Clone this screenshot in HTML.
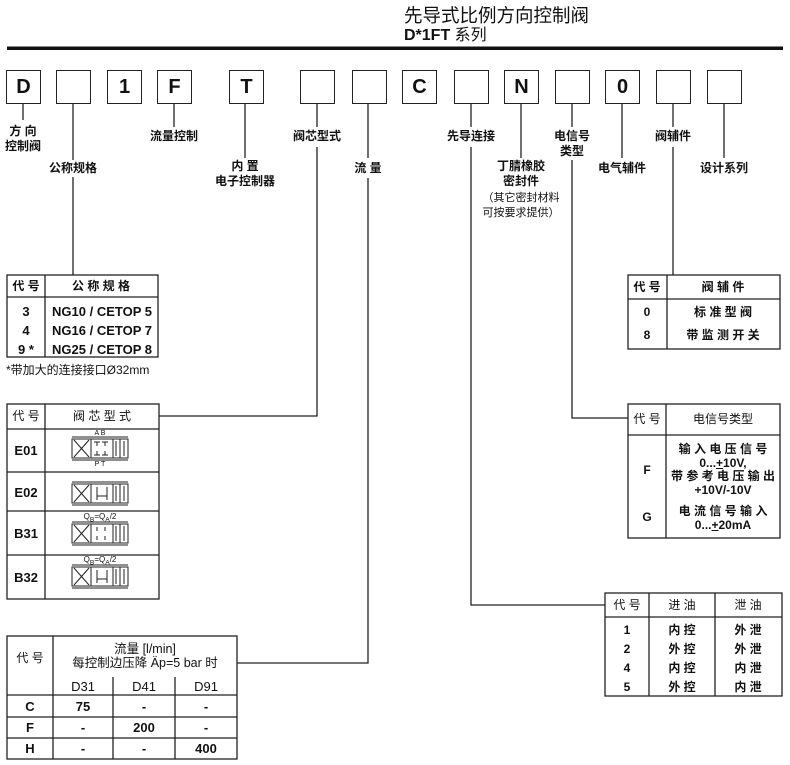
<!DOCTYPE html>
<html><head><meta charset="utf-8"><style>
body{margin:0;background:#fff;}
#c{position:relative;width:790px;height:765px;overflow:hidden;font-family:"Liberation Sans","Noto Sans CJK SC",sans-serif;color:#111;}
.t{position:absolute;white-space:nowrap;line-height:1;}
.b{font-weight:bold;}
.l{font-size:12px;font-weight:bold;text-align:center;transform:translateX(-50%);line-height:15px;}
.box{position:absolute;top:70px;width:33px;height:32px;border:1.5px solid #222;font-weight:bold;font-size:20px;text-align:center;line-height:32px;}
.c{transform:translateX(-50%);text-align:center;}
svg{position:absolute;left:0;top:0;}
</style></head><body><div id="c">
<svg width="790" height="765" stroke="#222" fill="none" stroke-width="1.3">
<rect x="7" y="46.5" width="776" height="3.5" fill="#111" stroke="none"/>
<path d="M23 103V120 M73 103V160 M73 177V275 M174 103V127 M245 103V158 M317 103V127 M317 147V416H159 M368 103V158 M368 178V663H237 M471 103V127 M471 147V605H605 M521 103V158 M572 103V127 M572 160V418H628 M622 103V158 M673 103V127 M673 147V275 M724 103V158"/>
<rect x="7" y="275" width="151" height="82"/><path d="M7 297H158 M45 275V357"/>
<rect x="7" y="404" width="152" height="195"/><path d="M7 429H159 M7 472H159 M7 511H159 M7 555H159 M45 404V599"/>
<rect x="7" y="636" width="230" height="123"/><path d="M53 636V759 M113 677V759 M175 677V759 M7 695H237 M7 717H237 M7 738H237"/>
<rect x="628" y="275" width="152" height="74"/><path d="M628 299H780 M667 275V349"/>
<rect x="628" y="404" width="152" height="134"/><path d="M628 435H780 M666 404V538"/>
<rect x="605" y="593" width="177" height="103"/><path d="M605 617H782 M649 593V696 M715 593V696"/>
<g stroke-width="1">
<g transform="translate(72,439)"><path d="M0 -2H56 M0 21H56"/><rect x="0" y="0" width="56" height="19"/><path d="M19 0V19 M41 0V19 M48 0V19 M2 1L17 18 M17 1L2 18 M25 3V7 M22 3H28 M33 3V7 M30 3H36 M25 16V12 M22 16H28 M33 16V12 M30 16H36 M44 17V2 M52 2V17"/></g>
<g transform="translate(72,484)"><path d="M0 -2H56 M0 21H56"/><rect x="0" y="0" width="56" height="19"/><path d="M19 0V19 M41 0V19 M48 0V19 M2 1L17 18 M17 1L2 18 M25 3V16 M35 3V16 M25 12H35 M44 17V2 M52 2V17"/></g>
<g transform="translate(72,524)"><path d="M0 -2H56 M0 21H56"/><rect x="0" y="0" width="56" height="19"/><path d="M19 0V19 M41 0V19 M48 0V19 M2 1L17 18 M17 1L2 18 M25 3V7 M33 3V7 M25 16V12 M33 16V12 M44 17V2 M52 2V17"/></g>
<g transform="translate(72,567)"><path d="M0 -2H56 M0 21H56"/><rect x="0" y="0" width="56" height="19"/><path d="M19 0V19 M41 0V19 M48 0V19 M2 1L17 18 M17 1L2 18 M25 3V16 M35 3V16 M25 12H35 M44 17V2 M52 2V17"/></g>
</g>
</svg>
<div class="t" style="left:404px;top:7px;font-size:18.5px;">先导式比例方向控制阀</div>
<div class="t b" style="left:404px;top:28px;font-size:16px;">D*1FT <span style="font-weight:normal">系列</span></div>

<div class="box" style="left:6px">D</div><div class="box" style="left:56px"></div><div class="box" style="left:107px">1</div><div class="box" style="left:157px">F</div><div class="box" style="left:229px">T</div><div class="box" style="left:300px"></div><div class="box" style="left:352px"></div>
<div class="box" style="left:402px">C</div><div class="box" style="left:454px"></div><div class="box" style="left:504px">N</div><div class="box" style="left:555px"></div><div class="box" style="left:605px">0</div><div class="box" style="left:656px"></div><div class="box" style="left:707px"></div>

<div class="t l" style="left:23px;top:124px">方 向<br>控制阀</div>
<div class="t l" style="left:73px;top:161px">公称规格</div>
<div class="t l" style="left:174px;top:129px">流量控制</div>
<div class="t l" style="left:245px;top:159px">内 置<br>电子控制器</div>
<div class="t l" style="left:317px;top:129px">阀芯型式</div>
<div class="t l" style="left:368px;top:161px">流 量</div>
<div class="t l" style="left:471px;top:129px">先导连接</div>
<div class="t l" style="left:521px;top:159px">丁腈橡胶<br>密封件</div>
<div class="t l" style="left:521px;top:191px;font-weight:normal;font-size:11px">（其它密封材料<br>可按要求提供）</div>
<div class="t l" style="left:572px;top:129px">电信号<br>类型</div>
<div class="t l" style="left:622px;top:161px">电气辅件</div>
<div class="t l" style="left:673px;top:129px">阀辅件</div>
<div class="t l" style="left:724px;top:161px">设计系列</div>

<div class="t c b" style="left:26px;top:280px;font-size:12px">代 号</div>
<div class="t c b" style="left:101px;top:280px;font-size:12px">公 称 规 格</div>
<div class="t c b" style="left:26px;top:302px;font-size:13px;line-height:19px">3<br>4<br>9 *</div>
<div class="t c b" style="left:102px;top:302px;font-size:13px;line-height:19px">NG10 / CETOP 5<br>NG16 / CETOP 7<br>NG25 / CETOP 8</div>
<div class="t" style="left:6px;top:364px;font-size:12px">*带加大的连接接口Ø32mm</div>

<div class="t c" style="left:26px;top:410px;font-size:12px">代 号</div>
<div class="t c" style="left:102px;top:410px;font-size:12px">阀 芯 型 式</div>
<div class="t c b" style="left:26px;top:444px;font-size:13px">E01</div>
<div class="t c b" style="left:26px;top:486px;font-size:13px">E02</div>
<div class="t c b" style="left:26px;top:527px;font-size:13px">B31</div>
<div class="t c b" style="left:26px;top:571px;font-size:13px">B32</div>
<div class="t c" style="left:100px;top:430px;font-size:7px">A B</div>
<div class="t c" style="left:100px;top:461px;font-size:7px">P T</div>
<div class="t c" style="left:100px;top:513px;font-size:8px">Q<sub>B</sub>=Q<sub>A</sub>/2</div>
<div class="t c" style="left:100px;top:556px;font-size:8px">Q<sub>B</sub>=Q<sub>A</sub>/2</div>

<div class="t c" style="left:30px;top:652px;font-size:12px">代 号</div>
<div class="t c" style="left:145px;top:642px;font-size:12.5px;line-height:14px">流量 [l/min]<br>每控制边压降 Äp=5 bar 时</div>
<div class="t c" style="left:83px;top:680px;font-size:13px">D31</div>
<div class="t c" style="left:144px;top:680px;font-size:13px">D41</div>
<div class="t c" style="left:206px;top:680px;font-size:13px">D91</div>
<div class="t c b" style="left:30px;top:700px;font-size:13px">C</div>
<div class="t c b" style="left:30px;top:721px;font-size:13px">F</div>
<div class="t c b" style="left:30px;top:742px;font-size:13px">H</div>
<div class="t c b" style="left:83px;top:700px;font-size:13px">75</div>
<div class="t c b" style="left:144px;top:700px;font-size:13px">-</div>
<div class="t c b" style="left:206px;top:700px;font-size:13px">-</div>
<div class="t c b" style="left:83px;top:721px;font-size:13px">-</div>
<div class="t c b" style="left:144px;top:721px;font-size:13px">200</div>
<div class="t c b" style="left:206px;top:721px;font-size:13px">-</div>
<div class="t c b" style="left:83px;top:742px;font-size:13px">-</div>
<div class="t c b" style="left:144px;top:742px;font-size:13px">-</div>
<div class="t c b" style="left:206px;top:742px;font-size:13px">400</div>

<div class="t c b" style="left:647px;top:281px;font-size:12px">代 号</div>
<div class="t c b" style="left:723px;top:281px;font-size:12px">阀 辅 件</div>
<div class="t c b" style="left:647px;top:306px;font-size:12px">0</div>
<div class="t c b" style="left:723px;top:306px;font-size:12px">标 准 型 阀</div>
<div class="t c b" style="left:647px;top:329px;font-size:12px">8</div>
<div class="t c b" style="left:723px;top:329px;font-size:12px">带 监 测 开 关</div>

<div class="t c" style="left:647px;top:413px;font-size:12px">代 号</div>
<div class="t c" style="left:723px;top:413px;font-size:12px">电信号类型</div>
<div class="t c b" style="left:647px;top:464px;font-size:12px">F</div>
<div class="t c b" style="left:647px;top:511px;font-size:12px">G</div>
<div class="t c b" style="left:723px;top:443px;font-size:12px;line-height:13.6px">输 入 电 压 信 号<br>0...<u>+</u>10V,<br>带 参 考 电 压 输 出<br>+10V/-10V</div>
<div class="t c b" style="left:723px;top:504px;font-size:12px;line-height:14px">电 流 信 号 输 入<br>0...<u>+</u>20mA</div>

<div class="t c" style="left:627px;top:599px;font-size:12px">代 号</div>
<div class="t c" style="left:682px;top:599px;font-size:12px">进 油</div>
<div class="t c" style="left:748px;top:599px;font-size:12px">泄 油</div>
<div class="t c b" style="left:627px;top:621px;font-size:12px;line-height:19px">1<br>2<br>4<br>5</div>
<div class="t c b" style="left:682px;top:621px;font-size:12px;line-height:19px">内 控<br>外 控<br>内 控<br>外 控</div>
<div class="t c b" style="left:748px;top:621px;font-size:12px;line-height:19px">外 泄<br>外 泄<br>内 泄<br>内 泄</div>
</div></body></html>
